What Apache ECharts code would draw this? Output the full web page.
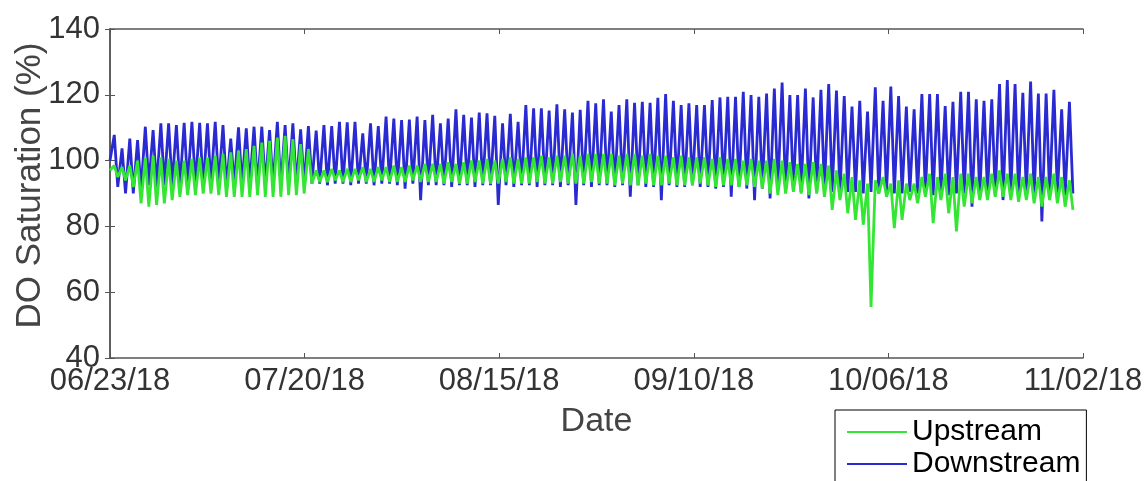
<!DOCTYPE html>
<html>
<head>
<meta charset="utf-8">
<script src="https://cdn.jsdelivr.net/npm/echarts@6/dist/echarts.min.js"></script>
<style>
html,body{margin:0;padding:0;background:#fff;}
#chart{width:1146px;height:481px;}
</style>
</head>
<body>
<div id="chart"></div>
<script>
// Tick labels of the date axis (days since 06/23/18, 5 equal steps)
const dateTickLabels = ['06/23/18','07/20/18','08/15/18','09/10/18','10/06/18','11/02/18'];
const axisSpanDays = 132;
const cycleDays = 1.0535;   // spacing of the diel cycles along the date axis
const peakPhase = 0.55;     // position of the daily maximum inside a cycle

// Downstream daily maxima / minima (% saturation)
const downstreamHigh = [
107.8,103.7,106.7,106.2,110.3,109.3,111.3,111.3,110.8,111.5,111.8,111.5,111.3,111.8,110.8,106.7,110.1,109.8,110.3,110.3,109.3,
111.8,110.8,111.3,109.5,110.5,109.1,110.8,110.5,111.8,111.6,111.8,108.3,111.3,110.5,113.4,112.8,112.3,112.5,113.4,112.3,113.9,
111.3,112.8,115.6,113.9,113.1,114.6,114.4,113.6,111.3,114.2,111.8,116.9,115.9,115.9,115.2,117.1,115.6,114.6,115.4,118.2,117.4,
118.6,114.9,116.9,118.6,117.6,117.9,117.6,119.1,120.2,118.2,116.9,117.4,116.9,116.9,118.4,119.2,119.4,119.4,120.9,119.9,119.4,
120.4,121.9,123.7,119.9,119.9,121.9,119.2,121.5,123.3,121.3,119.6,116.4,118.2,114.9,122.3,118.2,122.5,119.6,116.4,115.6,
120.2,120.2,120.2,116.6,117.9,120.9,120.9,118.6,118.2,118.6,123.3,124.5,123.3,120.6,124.0,120.4,120.4,121.5,115.6,117.9
];
const downstreamLow = [
100,
92,90,90,91,
92.5,92,92.5,92.5,92,92.5,92.5,92,92.5,92.5,92,92.5,92.5,92.5,92,92.5,92.5,92,92.5,92.5,92.5,
93,93,92.5,93,93,92.5,93,93,92.5,93,93,92.5,91.5,93,88,92.5,
92.5,92.5,92,92.5,92.5,92,92.5,92.5,86.5,92.5,92,92.5,92.5,92,92.5,92.5,92,92.5,86.5,92.5,92,92.5,92.5,
92,92.5,89,92.5,92,92,88,92.5,92,92,92.5,92,92,91.5,92,89,92,91.5,88,91.5,
88.5,91,90.5,91,90.5,88.5,90.5,91,90.5,90,90.5,90.5,90,90.5,90,90.5,90,90,90.5,90,
90,89.5,90,89.5,90,90,86,89.5,90,89.5,88,90,89.5,90,89.5,81.5,89.5,90,89.5,90
];

// Upstream daily maxima / minima (% saturation)
const upstreamHigh = [
98.5,98,98.5,100,101,101.5,101,100.5,100,100,100.5,101,101,101.5,102,102.5,103,103.5,104.5,105.5,106,107,107.5,106.5,105,103.5,
97,97,97.5,97,97.5,97.5,98,97.5,98,98,98.5,98,98.5,98.5,99,99,
99,99.5,99,99.5,100,100,100.5,100,100.5,101,100.5,101,101,101.5,101,101.5,101.5,102,101.5,102,102,
102,102,101.5,102,102,101.5,102,101.5,101.5,101,101.5,101,101,101,100.5,101,100.5,100.5,100,100.5,100,
100,100.5,100,99.5,99,99,99.5,99,98.5,97,
96,95,94,93,94,95,93,94,93,93,
95,96,95,96,95,96,96,95,95,96,97,96,96,95,96,95,95,96,95,94
];
const upstreamLow = [
97,95,94,92,87,86,86.5,87,88,
89,89.5,89.5,90,90,89.5,89,89,89,89,89.5,89,89,89,89.5,89.5,90,
93,93.5,93.5,94,93.5,93.5,94,93.5,93.5,94,93.5,93.5,93.5,94,93.5,93.5,93.5,
93,93.5,93,93,93.5,93,93,93,93.5,93,93,93,93.5,93,93,93.5,93,93,93,93.5,93,93,
92.5,93,92.5,92.5,93,92.5,92.5,93,92.5,92.5,92.5,93,92.5,92,92.5,92.5,92,92.5,92,91.5,
90,89.5,90,90.5,90,89.5,90,89,
85,88,84,82,80.5,55.5,90,89,79.5,82,88,87,89,81,88,84,78.5,86,87,88,88,89,89,88,87.5,88,87,86,88,87,86,85
];

function buildPoints(lows, highs) {
  const pts = [];
  for (let i = 0; i < lows.length; i++) {
    pts.push([i * cycleDays, lows[i]]);
    if (i < highs.length) pts.push([(i + peakPhase) * cycleDays, highs[i]]);
  }
  return pts;
}

const FONT = "'Liberation Sans', Arial, Helvetica, sans-serif";
const AX = '#555';
const tickStep = axisSpanDays / (dateTickLabels.length - 1);

const chart = echarts.init(document.getElementById('chart'), null, {renderer: 'canvas'});
chart.setOption({
  animation: false,
  backgroundColor: '#fff',
  grid: {left: 110, right: 63, top: 29, bottom: 123, containLabel: false, outerBoundsMode: 'none'},
  legend: {
    orient: 'vertical', left: 835, top: 410, height: 200, width: 260,
    data: ['Upstream', 'Downstream'],
    icon: 'rect', itemWidth: 60, itemHeight: 2, itemGap: 0,
    textStyle: {fontSize: 30, color: '#000', fontFamily: FONT, lineHeight: 32},
    borderColor: '#000', borderWidth: 1, borderRadius: 0,
    padding: [6, 6, 14, 12], backgroundColor: '#fff'
  },
  xAxis: [{
    type: 'value', min: 0, max: axisSpanDays, interval: tickStep,
    name: 'Date', nameLocation: 'middle', nameGap: 47,
    nameTextStyle: {fontSize: 34, color: '#444', fontFamily: FONT},
    axisLine: {show: true, lineStyle: {color: AX, width: 1.5}},
    axisTick: {show: true, inside: true, length: 5, lineStyle: {color: AX}},
    axisLabel: {fontSize: 31, color: '#333', fontFamily: FONT, margin: 8,
      formatter: v => dateTickLabels[Math.round(v / tickStep)] || ''},
    splitLine: {show: false}
  }, {
    type: 'value', position: 'top', min: 0, max: axisSpanDays, interval: tickStep,
    axisLine: {show: true, lineStyle: {color: AX, width: 1.5}},
    axisTick: {show: true, inside: true, length: 5, lineStyle: {color: AX}},
    axisLabel: {show: false}, splitLine: {show: false}
  }],
  yAxis: [{
    type: 'value', min: 40, max: 140, interval: 20,
    name: 'DO Saturation (%)', nameLocation: 'middle', nameGap: 62, nameRotate: 90,
    nameMoveOverlap: false,
    nameTextStyle: {fontSize: 35, color: '#444', fontFamily: FONT, padding: [0, 0, 0, 16]},
    axisLine: {show: true, lineStyle: {color: AX, width: 1.5}},
    axisTick: {show: true, inside: true, length: 5, lineStyle: {color: AX}},
    axisLabel: {fontSize: 31, color: '#333', fontFamily: FONT, margin: 10},
    splitLine: {show: false}
  }, {
    type: 'value', position: 'right', min: 40, max: 140, interval: 20,
    axisLine: {show: true, lineStyle: {color: AX, width: 1.5}},
    axisTick: {show: true, inside: true, length: 5, lineStyle: {color: AX}},
    axisLabel: {show: false}, splitLine: {show: false}
  }],
  series: [{
    name: 'Downstream', type: 'line', xAxisIndex: 0, yAxisIndex: 0,
    data: buildPoints(downstreamLow, downstreamHigh),
    showSymbol: false, symbol: 'none',
    color: '#2a2ad2',
    lineStyle: {color: '#2a2ad2', width: 2.8}
  }, {
    name: 'Upstream', type: 'line', xAxisIndex: 0, yAxisIndex: 0,
    data: buildPoints(upstreamLow, upstreamHigh),
    showSymbol: false, symbol: 'none',
    color: '#33e633',
    lineStyle: {color: '#33e633', width: 2.8}
  }]
});
</script>
</body>
</html>
